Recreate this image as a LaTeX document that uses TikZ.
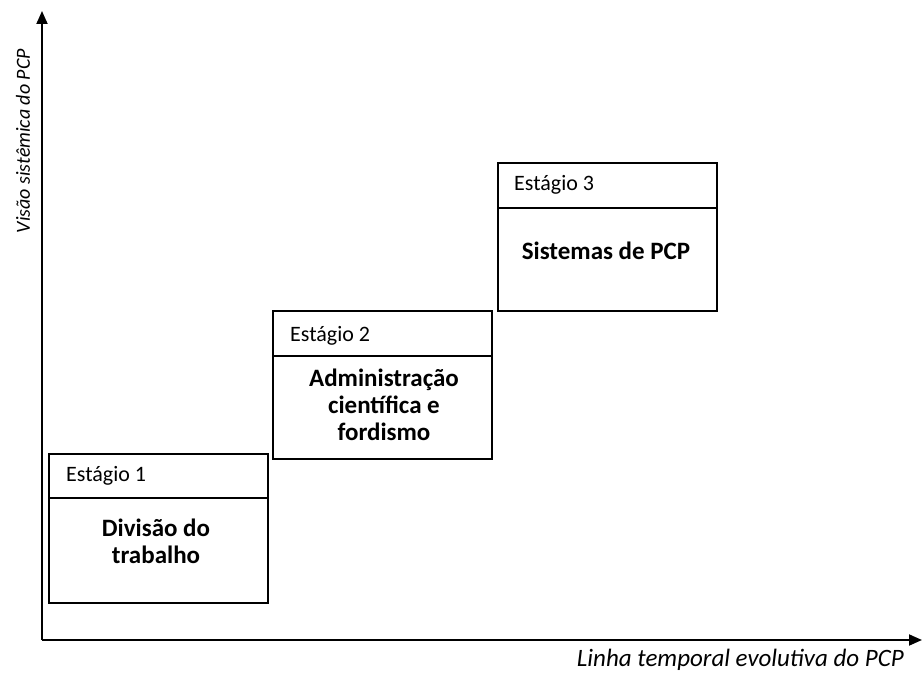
\documentclass[tikz,border=0pt]{standalone}
\usepackage{fontspec}
\setmainfont{Carlito}
\usetikzlibrary{arrows.meta}
\begin{document}
\begin{tikzpicture}[x=1pt,y=-1pt,
  axis/.style={line width=1.8pt,-{Triangle[length=13pt,width=11pt]}},
  stagebox/.style={draw,line width=1.3pt},
  stagetitle/.style={anchor=west,font=\fontsize{22}{24}\selectfont,inner sep=0pt},
  stagebody/.style={align=center,font=\bfseries\fontsize{25}{27}\selectfont,inner sep=0pt},
  axislabel/.style={font=\itshape\fontsize{25}{28}\selectfont,inner sep=0pt}]
\useasboundingbox (0,0) rectangle (922,674);
\coordinate (O) at (42,640);
\coordinate (Ytip) at (42,11);
\coordinate (Xtip) at (922,640);
\draw[axis] (O) -- (Ytip);
\draw[axis] (O) -- (Xtip);
\node[axislabel,rotate=90,font=\itshape\fontsize{20}{24}\selectfont] (ylab) at (23,141) {Visão sistêmica  do PCP};
\node[axislabel,anchor=east] (xlab) at (904,660) {Linha temporal evolutiva do PCP};
% Stage 1
\draw[stagebox] (49,454) rectangle (268,603);
\draw[stagebox] (49,498) -- (268,498);
\node[stagetitle] (t1) at (66,476) {Estágio 1};
\node[stagebody] (b1) at (156,541) {Divisão do\\trabalho};
% Stage 2
\draw[stagebox] (273,311) rectangle (492,459);
\draw[stagebox] (273,356) -- (492,356);
\node[stagetitle] (t2) at (290,336) {Estágio 2};
\node[stagebody] (b2) at (384,405) {Administração\\científica e\\fordismo};
% Stage 3
\draw[stagebox] (498,163) rectangle (717,311);
\draw[stagebox] (498,208) -- (717,208);
\node[stagetitle] (t3) at (514,185) {Estágio 3};
\node[stagebody] (b3) at (606,251) {Sistemas de PCP};
\end{tikzpicture}
\end{document}
